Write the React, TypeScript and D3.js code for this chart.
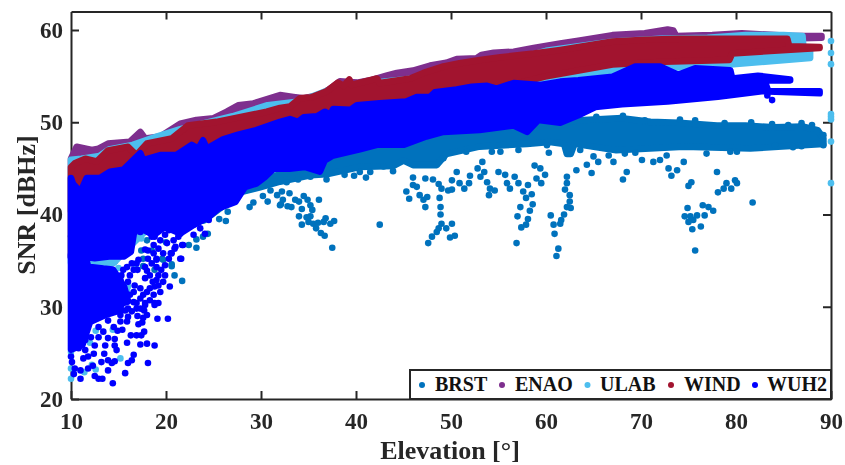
import React, { useEffect, useRef } from 'react';
import * as d3 from 'd3';

type Pt = [number, number];

// [elevation, snr]. Top/bottom = outer edge of each dense cloud.
const seriesNames = ['BRST', 'ENAO', 'ULAB', 'WIND', 'WUH2'];
const seriesColors = ['#0072BD', '#7E2F8E', '#4DBEEE', '#A2142F', '#0000FF'];
const legendMarkX = [422, 502, 587.5, 671, 755];
const legendTextX = [435, 515, 600, 684, 767];
const xTicks = [10, 20, 30, 40, 50, 60, 70, 80, 90];
const yTicks = [20, 30, 40, 50, 60];

const enaoTop: Pt[] = [[10, 46.4], [10.6, 47.7], [12.2, 47.35], [12.9, 47.5], [13.9, 48.05], [16.2, 48.25], [17.3, 49.3], [17.8, 48.6], [19.4, 48.8], [21.5, 50.2], [23.2, 50.6], [25, 50.8], [26.4, 51.5], [27.6, 52.2], [29.2, 52.4], [32, 53.3], [33.4, 53.1], [34.5, 52.96], [36.2, 53.3], [37.3, 54], [38.3, 54.8], [40.1, 54.65], [41.5, 54.9], [43.2, 55.4], [44.3, 55.7], [46, 55.96], [47.8, 56.5], [49.5, 56.8], [50.6, 57.2], [52.7, 57.3], [53.2, 57.65], [54.5, 57.9], [56.6, 58], [58.7, 58.4], [61.5, 58.9], [63.4, 59.2], [67, 59.8], [70.4, 60], [72.8, 60.4], [73.4, 60.3], [73.7, 59.7], [77.5, 59.8], [80.6, 60], [85.9, 59.7], [89, 59.7]];
const enaoBottom: Pt[] = [[10, 40], [30, 48], [60, 55], [73, 57], [85, 58.7], [89, 58.8]];

const ulabTop: Pt[] = [[10, 46.3], [11.1, 46.4], [13, 46.7], [14, 47.4], [16.5, 47.9], [19, 48.8], [21.5, 49.6], [25, 50.5], [27, 51], [30.7, 52.2], [34, 52.6], [38, 54.2], [45, 55], [50, 55.6], [55, 56.7], [60, 58.1], [67, 59.1], [72, 59.4], [77, 59.5], [81, 59.8], [85, 59.8], [87, 59.7], [87.1, 58.4], [87.8, 58.1]];
const ulabBottom: Pt[] = [[10, 34.4], [14.5, 34.4], [16, 36], [18, 38], [20, 39], [30, 44], [40, 48], [50, 51], [60, 53], [62, 54.4], [67, 55.2], [72.5, 55.5], [79.4, 55.9], [87.8, 56.6]];

const windTop: Pt[] = [[10, 45.5], [10.4, 45.9], [11.5, 46.4], [12.7, 46.1], [13.9, 47.3], [16, 47.7], [16.9, 46.8], [18, 48.05], [20.6, 48.6], [22.3, 50], [25.3, 50.4], [30.6, 51.5], [32, 51.9], [33.05, 52.05], [34.1, 52.96], [35.3, 53.06], [36.9, 53.7], [38.1, 54.65], [38.7, 54.3], [39.3, 55], [39.5, 54.4], [42.2, 55.1], [42.5, 54.6], [45.7, 55.1], [47.1, 55.7], [49.2, 56.4], [50.9, 56.75], [53.05, 57.1], [55.2, 57.4], [58.7, 57.8], [61.5, 58.2], [67, 59.1], [70.4, 59.3], [74, 59.4], [77.5, 59.4], [85.4, 59.4], [85.6, 58.6], [88.8, 58.5]];
const windBottom: Pt[] = [[10, 35], [20, 43], [30, 47], [40, 50], [50, 52], [59.9, 54.6], [67, 55.9], [72.5, 56.2], [79.3, 56.4], [79.6, 57.1], [88.8, 57.7]];

const brstTop: Pt[] = [[10, 38], [24, 43], [29, 46], [40, 48], [50, 49], [57, 50], [60.5, 50.3], [64, 50.6], [68, 50.8], [71, 50.4], [74, 50.3], [78, 50], [81, 50], [84, 49.8], [87, 49.9], [88.6, 49.5], [89.2, 48.6]];
const brstBottom: Pt[] = [[24, 39], [28, 42.1], [29.9, 42.6], [32, 43.2], [35.2, 43.9], [36.9, 44], [40.4, 44.8], [43.9, 44.9], [45, 45.5], [46, 45], [48.5, 45], [49.5, 46.2], [53, 47], [58, 47.3], [60.4, 47.5], [61.9, 47.3], [62.2, 46.2], [62.6, 46.2], [63, 47.3], [67.4, 46.6], [74.5, 47], [81.5, 46.8], [89.2, 47.3]];

const wuh2Top: Pt[] = [[10, 44.3], [10.2, 43.7], [11, 42.8], [11.65, 44.3], [13.05, 44.3], [14.1, 45], [15.5, 45.2], [17.3, 47], [17.6, 46.25], [19.4, 46.8], [21.1, 46.8], [22.7, 47.9], [23.4, 47.5], [23.9, 48.4], [24.3, 47.5], [26, 48.5], [27.6, 49], [29.5, 49.5], [32, 50.4], [33.05, 50.7], [33.9, 50.4], [34.5, 50.9], [35.9, 51], [36.7, 51.5], [37.3, 51.15], [37.6, 51.8], [39.4, 51.7], [40.1, 52.2], [42.5, 52.4], [45.3, 52.6], [46.4, 53.1], [47.8, 53.1], [48.3, 53.6], [50.6, 53.9], [52.2, 54.2], [53.8, 54.3], [54.8, 54], [56.6, 54.6], [59.4, 54.4], [61.5, 54.76], [63.4, 54.9], [67, 55.3], [69.4, 56.4], [72, 56.4], [73.9, 55.5], [75.7, 56.2], [79.4, 56], [79.6, 55.1], [82.3, 55.4], [85.7, 55], [85.7, 54.9], [83, 54.9], [83.4, 53.7], [88.8, 53.5]];
const wuh2Bottom: Pt[] = [[10, 35], [11.7, 35], [12.5, 34.9], [14, 35.1], [15.6, 35.1], [16.3, 35.6], [16.6, 37.5], [17, 38.3], [18, 37.8], [18.7, 37.4], [19.9, 38.3], [21.5, 37.6], [22.9, 38.5], [24.5, 39.4], [25.5, 40.3], [27.3, 41], [28.3, 42.6], [29.5, 43], [30.4, 43.7], [31.3, 44.6], [33, 44.6], [34.6, 44.8], [36.2, 44.3], [36.7, 45.5], [37.5, 46], [40.4, 46.7], [42.2, 47.2], [45, 47.2], [47.4, 48.1], [49.2, 48.6], [53, 48.8], [56.6, 49.3], [58, 48.6], [59.2, 49.9], [61.5, 49.6], [63.4, 50.4], [65.2, 51.3], [68, 51.6], [72.8, 51.9], [78.1, 52.4], [82.7, 53], [88.8, 53]];
// the lower-left block below the light blue channel
const wuh2PatchTop: Pt[] = [[10, 36], [11.5, 36], [11.8, 34.7], [13.4, 34.5], [14.4, 34.4], [15, 33.5], [15.6, 32.5], [16, 31]];
const wuh2PatchBottom: Pt[] = [[10, 25], [11.2, 25.5], [12, 28], [13.5, 28.7], [15, 29.2], [15.4, 30], [16, 30.2]];

const brstDots: Pt[] = [[30.2, 42], [30.7, 41.4], [31, 42.6], [31.7, 42.1], [32.2, 42.5], [33, 42.3], [32.1, 41.1], [32.3, 41.6], [32.8, 40.9], [33.2, 40.8], [33.6, 41.6], [34, 41.4], [34.5, 42], [34.9, 41.6], [35.2, 41], [35.4, 40.5], [36.1, 41.6], [34.3, 40.6], [34, 39.8], [34.8, 39.7], [35.2, 39.8], [34.3, 38.9], [35, 39.2], [35.5, 39], [36, 39.1], [36.6, 39.2], [36.8, 39.6], [37.3, 39], [37.7, 39.3], [35.8, 38.5], [36.3, 38], [36.7, 37.7], [37.5, 36.4], [42.5, 38.9], [45.3, 42.5], [45.6, 41.7], [46, 43.2], [46.4, 43], [46.7, 42.1], [47.1, 41.6], [47.5, 41.9], [47.3, 40.8], [48.8, 41.8], [48.9, 40.8], [48.9, 40], [48.7, 43.3], [49, 42.8], [50.1, 43.7], [50.6, 44.6], [49.7, 42.6], [50.1, 42.7], [50.9, 43.4], [51.4, 42.8], [52, 44.2], [51.9, 43.4], [52.8, 45], [53.3, 45.7], [53.5, 44.6], [53.1, 44.1], [53.8, 43.5], [54.1, 42.8], [54.6, 42.6], [54, 42.1], [55, 44.6], [55.7, 44.3], [56.7, 44.1], [55.9, 43.4], [57.1, 43.4], [56.2, 42.8], [57.6, 42.5], [58.8, 45.3], [58.1, 43.2], [58.5, 42.2], [57.9, 41.8], [58.6, 41.1], [57.3, 40.8], [58.3, 40.4], [57, 39.8], [58.1, 39.5], [57.9, 38.9], [57.4, 38.6], [56.9, 36.9], [60.5, 39.9], [60.8, 38.9], [60.9, 37.9], [61.3, 36.3], [61.1, 35.5], [60.3, 46.7], [59.4, 45], [59, 43.9], [59.5, 43.4], [59.9, 44.3], [49, 39], [50.1, 39], [49.5, 38.5], [48.5, 38.1], [48, 37.6], [47.6, 36.9], [50.4, 37.7], [49.9, 37.5], [48.7, 38.5], [62.2, 44.1], [62.2, 43.4], [62, 42.7], [62.5, 42.1], [62.5, 41.4], [62.6, 40.7], [62.2, 40.8], [61.9, 40], [61.6, 39.4], [61.5, 39], [63.6, 47], [63.2, 44.8], [64.3, 45.4], [64.8, 44.5], [65.5, 45.7], [67.1, 45.7], [68.5, 44.6], [68.1, 43.8], [70.1, 45.9], [71.3, 45.7], [72, 45.9], [72.9, 45], [73.2, 44.2], [73.8, 44.8], [74.5, 45.7], [75.3, 43.5], [75, 43.1], [78, 44.6], [78.1, 42.4], [79, 43.4], [79.9, 43.7], [80.1, 43.4], [78.7, 42.8], [79.5, 42.8], [76.5, 41], [74.9, 40.7], [74.6, 39.8], [75.2, 39.8], [75.9, 39.9], [76.7, 39.9], [77.6, 40.4], [77.1, 40.8], [75.5, 39.4], [75, 39.2], [76.3, 38.7], [75.4, 38.4], [75.7, 36.1], [81.75, 41.3], [20.6, 34.4], [20.9, 33.4], [21.7, 32.8], [18.8, 34], [19.7, 35.1], [17.6, 35.2], [17.6, 34.4], [18, 37.2], [22.4, 36.7], [17.4, 36.1], [14.6, 34.9], [23.2, 36.4], [23.2, 37.3], [24.4, 37.9], [23.9, 37.6], [20, 37], [19.6, 35.2], [18.5, 36.1], [20.6, 34.6], [25.6, 39.5], [26.3, 39.3], [26.5, 40.3], [28.8, 40.8], [29.2, 41.3], [32, 41]];
// bumps along the edges of the BRST band
const brstEdge: Pt[] = [[30.1, 43.2], [31.3, 43.6], [32.7, 43.5], [33.9, 43.8], [35.2, 44.1], [36.9, 43.8], [38.8, 44.3], [39.8, 44.2], [40.4, 44.6], [41.05, 44], [41.5, 44.6], [43.9, 44.7], [42.9, 45.2], [46, 44], [47.3, 43.9], [48.1, 43.8], [49.2, 46.1], [51.6, 46.8], [54.3, 46.8], [55.2, 46.8], [57.1, 47], [60.1, 47.5], [65, 46.3], [66.6, 46.4], [68.3, 46.6], [69.4, 46.7], [72.7, 46.4], [76.9, 46.6], [79.4, 46.8], [80.1, 46.8], [84.1, 47.5], [86, 47.3], [86.9, 47.4], [89.2, 47.5], [89.2, 48.6], [88.5, 49], [88, 49.7], [86.9, 49.9], [85.5, 49.7], [83.8, 49.8], [81.6, 50], [78.8, 49.9], [75.7, 50.2], [74.1, 50.3], [70.4, 50.2], [68.1, 50.7], [65.3, 50.6]];
const ulabDots: Pt[] = [[15.2, 24.4], [10, 22.2], [11.4, 22.9], [12.6, 23.2], [12.2, 23.7], [10, 25.1], [10, 23.3], [15.4, 30.4], [12.6, 27.4], [12, 26.1], [14.4, 27.5], [10.6, 36.2], [15, 34.2], [15.9, 31.8], [15.3, 30.4], [17.4, 37.4], [14.1, 36], [13.4, 34.4], [16, 32.2], [16.8, 34.5], [12.2, 34.5], [12.8, 34.4], [90, 58.8], [90, 57.5], [90, 56.3], [90, 50.9], [90, 50.6], [90, 50.3], [90, 47.9], [90, 43.4]];
const wuh2Dots: Pt[] = [[20.2, 28.7], [19.1, 28.7], [18, 29.1], [18.8, 30.2], [19.2, 30.4], [17.8, 30.4], [16.9, 29.8], [17, 29], [17.7, 29.6], [17.6, 28.8], [17.1, 28.1], [17.5, 28.3], [17.7, 27.3], [17.4, 26.9], [16.9, 26.9], [16.3, 26.9], [15.9, 26.1], [17.3, 25.9], [18, 26], [18.8, 25.8], [16.6, 24.8], [16.4, 24.2], [16, 23.9], [18.1, 23.9], [15.7, 22.8], [13.9, 23.1], [14.3, 23.9], [14.6, 24.1], [13.9, 24.2], [13.2, 24], [12.5, 22.5], [12.9, 22.2], [13.3, 22.2], [14.4, 21.7], [11, 22.2], [10.3, 22.7], [11, 23.1], [10.4, 23.3], [11.8, 23.3], [12.3, 23.6], [10.1, 24], [10, 24.6], [11.3, 24.4], [11.8, 24.6], [12.4, 24.9], [13.5, 24.9], [14.8, 25.3], [14.6, 25.8], [14.6, 26.5], [13.6, 25.8], [12.5, 25.8], [12.1, 26.7], [15.4, 27.5], [14.9, 27.4], [14.5, 27.8], [13.9, 26.6], [13.4, 27.3], [10.8, 25.5], [10.1, 26], [10.1, 26.9], [10.8, 27.1], [10.4, 26.2], [11.5, 25.3], [15.7, 29.6], [16, 28.9], [15.2, 29.1], [14.6, 30], [13.9, 29.6], [12.9, 29.3], [11.8, 28.9], [10.8, 28.9], [10.1, 28.9], [12.9, 27.8], [11.5, 27.5], [13.9, 28.5], [15.2, 28.4], [15.9, 28.4], [11.5, 26.4], [12.9, 26.7], [17.1, 35.1], [15.9, 34.3], [16.6, 34], [17, 34], [18, 33.9], [16.2, 33.4], [15.3, 33.4], [16, 32.7], [15.2, 32.9], [17.8, 33.1], [17.3, 32], [16.6, 31.6], [19.2, 33.4], [19.9, 33.4], [19, 32.9], [19.7, 32.7], [20.4, 32.2], [19.2, 32.3], [19.4, 31.6], [18.7, 31.3], [18, 31.6], [17.3, 30.9], [17.8, 30.2], [16.6, 30.5], [16.9, 30.4], [16, 29.8], [15.2, 29.6], [18.1, 36.1], [17.8, 36.2], [19, 35.1], [20.6, 35.8], [21.6, 35.2], [21, 36.5], [19.9, 37.8], [20.1, 36.9], [21.8, 36.7], [18.5, 37.6], [17.3, 38.1], [22.9, 37.8], [21.3, 37.6], [24.5, 39.4], [24.1, 37.9], [23.6, 38.5], [21.7, 36.7], [20.9, 36.3], [20.5, 35.8], [21.5, 35.2], [19, 35.2], [18.8, 37.6], [83.8, 52.4], [83.3, 52.9], [16.9, 34.7], [16.4, 34.7], [15.5, 34], [18.3, 33.4], [18.6, 32.7], [18.3, 32], [18.8, 32.2], [17.6, 31.3], [18.3, 30.7], [18.8, 30.4], [17.3, 29.8], [16.4, 29.5], [15.6, 31.3], [15.2, 31.8], [14.6, 32.2], [15.3, 32.3], [16.2, 31.3], [16.7, 32.3], [17.8, 34.3], [18.5, 34.7], [19, 34.3], [19.9, 34.5], [19.5, 34], [18.1, 35.2], [18.7, 35.8], [19.2, 36.3], [19.7, 35.8], [20.3, 35.2], [20.8, 37.2], [21.5, 37.9], [20.3, 38.3], [19.4, 38.5], [18.5, 38.3], [18.7, 36.7], [19.4, 37.2]];

const bands: { top: Pt[]; bottom: Pt[]; color: string }[][] = [
  [{ top: brstTop, bottom: brstBottom, color: seriesColors[0] }],
  [{ top: enaoTop, bottom: enaoBottom, color: seriesColors[1] }],
  [{ top: ulabTop, bottom: ulabBottom, color: seriesColors[2] }],
  [{ top: windTop, bottom: windBottom, color: seriesColors[3] }],
  [
    { top: wuh2Top, bottom: wuh2Bottom, color: seriesColors[4] },
    { top: wuh2PatchTop, bottom: wuh2PatchBottom, color: seriesColors[4] },
  ],
];
const dots: Pt[][] = [[...brstDots, ...brstEdge], [], ulabDots, [], wuh2Dots];

const R = 3.3;
const INK = '#262626';
const FONT = '"Liberation Serif", "Times New Roman", serif';

const App = () => {
  const ref = useRef<SVGSVGElement>(null);

  useEffect(() => {
    const svg = d3.select(ref.current);
    svg.selectAll('*').remove();

    const xScale = d3.scaleLinear().domain([10, 90]).range([71, 831]);
    const yScale = d3.scaleLinear().domain([20, 60]).range([399, 30]);
    const yTopPx = 11.5;

    // box and ticks, all pointing inward
    const styleAxis = (g: any) => {
      g.selectAll('path').attr('stroke', INK).attr('stroke-width', 2);
      g.selectAll('line').attr('stroke', INK).attr('stroke-width', 2);
      g.selectAll('text')
        .attr('fill', INK)
        .attr('font-family', FONT)
        .attr('font-weight', 'bold')
        .attr('font-size', 23);
    };
    const yFull = d3.scaleLinear().domain([20, yScale.invert(yTopPx)]).range([399, yTopPx]);

    // the markers are not clipped and sit on top of the axes
    svg.append('g')
      .attr('transform', 'translate(0,399)')
      .call(d3.axisBottom(xScale).tickValues(xTicks).tickSize(-8).tickSizeOuter(0).tickPadding(14) as any)
      .call(styleAxis);
    svg.append('g')
      .attr('transform', `translate(0,${yTopPx})`)
      .call(d3.axisTop(xScale).tickValues(xTicks.slice(1, -1)).tickSize(-8).tickSizeOuter(0).tickFormat(() => '') as any)
      .call(styleAxis);
    svg.append('g')
      .attr('transform', 'translate(71,0)')
      .call(d3.axisLeft(yFull).tickValues(yTicks).tickSize(-8).tickSizeOuter(0).tickPadding(8) as any)
      .call(styleAxis);
    svg.append('g')
      .attr('transform', 'translate(831,0)')
      .call(d3.axisRight(yFull).tickValues(yTicks.slice(1)).tickSize(-8).tickSizeOuter(0).tickFormat(() => '') as any)
      .call(styleAxis);

    const line = d3.line();
    bands.forEach((group, i) => {
      const g = svg.append('g');
      group.forEach(b => {
        // edges were read at the outside of the dots, so pull in by a radius and stroke it back
        const pts = [
          ...b.top.map(d => [xScale(d[0]), yScale(d[1]) + R] as [number, number]),
          ...b.bottom.slice().reverse().map(d => [xScale(d[0]), yScale(d[1]) - R] as [number, number]),
        ];
        g.append('path')
          .attr('d', line(pts) + 'Z')
          .attr('fill', b.color)
          .attr('stroke', b.color)
          .attr('stroke-width', R * 2)
          .attr('stroke-linejoin', 'round');
      });
      g.selectAll('circle')
        .data(dots[i])
        .enter()
        .append('circle')
        .attr('cx', d => xScale(d[0]))
        .attr('cy', d => yScale(d[1]))
        .attr('r', R)
        .attr('fill', seriesColors[i]);
    });

    svg.append('text')
      .attr('x', 450)
      .attr('y', 459)
      .attr('text-anchor', 'middle')
      .attr('font-family', FONT)
      .attr('font-weight', 'bold')
      .attr('font-size', 26)
      .attr('fill', INK)
      .text('Elevation [°]');
    svg.append('text')
      .attr('transform', 'translate(35,205) rotate(-90)')
      .attr('text-anchor', 'middle')
      .attr('font-family', FONT)
      .attr('font-weight', 'bold')
      .attr('font-size', 26)
      .attr('fill', INK)
      .text('SNR [dBHz]');

    // legend
    const legend = svg.append('g');
    legend.append('rect')
      .attr('x', 410)
      .attr('y', 370)
      .attr('width', 421)
      .attr('height', 29)
      .attr('fill', '#fff')
      .attr('stroke', INK)
      .attr('stroke-width', 2);
    seriesNames.forEach((name, i) => {
      legend.append('circle')
        .attr('cx', legendMarkX[i])
        .attr('cy', 385)
        .attr('r', 3)
        .attr('fill', seriesColors[i]);
      legend.append('text')
        .attr('x', legendTextX[i])
        .attr('y', 391)
        .attr('font-family', FONT)
        .attr('font-weight', 'bold')
        .attr('font-size', 20)
        .attr('fill', '#111')
        .text(name);
    });
  }, []);

  return <svg ref={ref} width={845} height={465} style={{ position: 'absolute', left: 0, top: 0, filter: 'blur(0.4px)' }}></svg>;
};

export default App;
